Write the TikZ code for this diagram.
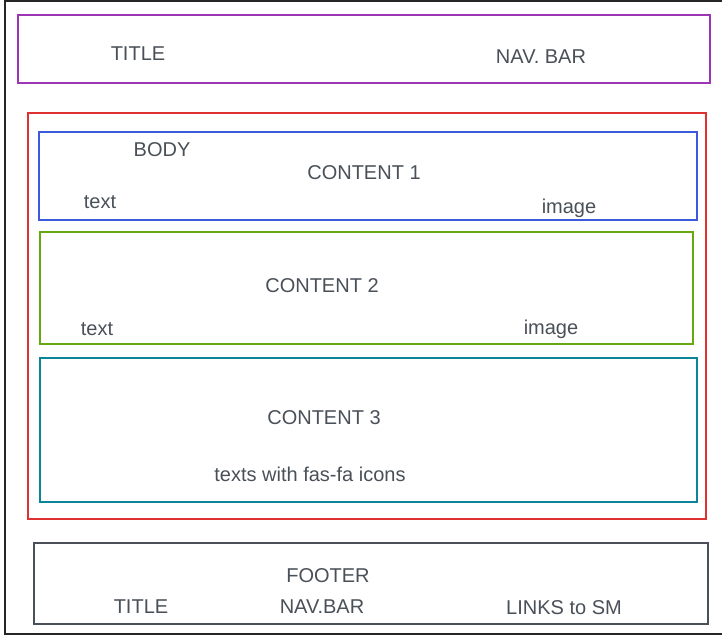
\documentclass[tikz,border=0pt]{standalone}
\usepackage{fontspec}
\setmainfont{Liberation Sans}
\definecolor{sketchviolet}{HTML}{9C36B5}
\definecolor{sketchred}{HTML}{E03131}
\definecolor{sketchblue}{HTML}{3B5BDB}
\definecolor{sketchgreen}{HTML}{66A80F}
\definecolor{sketchteal}{HTML}{0C8599}
\definecolor{sketchgray}{HTML}{495057}
\begin{document}
\begin{tikzpicture}[x=1pt, y=-1pt]
                \tikzstyle{box}=[
                    rectangle, draw, line width=1.5pt, inner sep=0pt,
                    anchor=north west]
                \tikzstyle{label}=[
                    anchor=base, inner sep=0pt, text=sketchgray,
                    font=\fontsize{20}{24}\selectfont]
                \useasboundingbox (0,0) rectangle (722,635);

                % page frame, right side runs off the picture
                \coordinate (frame-tr) at (740,1);
                \coordinate (frame-tl) at (5,1);
                \coordinate (frame-bl) at (5,634);
                \coordinate (frame-br) at (740,634);
                \draw [line width=1.2pt, black!85]
                    (frame-tr) -- (frame-tl) -- (frame-bl) -- (frame-br);

                \foreach \name / \col / \x / \y / \w / \h in {
                        header/sketchviolet/17/14/692/68,
                        body/sketchred/27/112/678/406,
                        content1/sketchblue/38/131/658/88,
                        content2/sketchgreen/39/231/653/112,
                        content3/sketchteal/39/357/657/144,
                        footer/sketchgray/33/542/674/81}
                    \node [box, draw=\col, minimum width=\w pt,
                        minimum height=\h pt] (\name) at (\x, \y) {};

                \foreach \name / \x / \y / \txt in {
                        header-title/138/60/TITLE,
                        header-nav/541/63/NAV. BAR,
                        body-lbl/162/156/BODY,
                        content1-lbl/364/179/CONTENT 1,
                        content1-text/100/208/text,
                        content1-image/569/213/image,
                        content2-lbl/322/292/CONTENT 2,
                        content2-text/97/335/text,
                        content2-image/551/334/image,
                        content3-lbl/324/424/CONTENT 3,
                        content3-text/310/481/texts with fas-fa icons,
                        footer-lbl/328/582/FOOTER,
                        footer-title/141/613/TITLE,
                        footer-nav/322/613/NAV.BAR,
                        footer-links/564/614/LINKS to SM}
                    \node [label] (\name) at (\x, \y) {\txt};
            \end{tikzpicture}
\end{document}
